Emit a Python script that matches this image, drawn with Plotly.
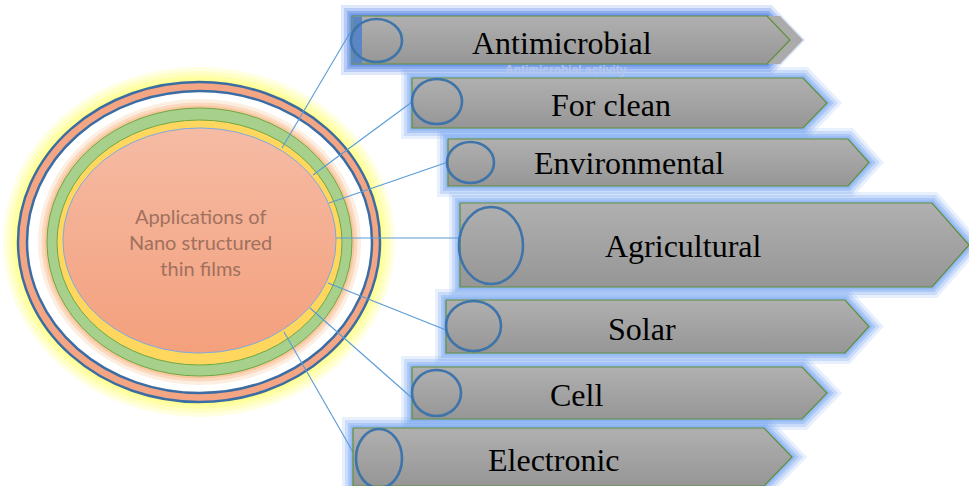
import numpy as np
import plotly.graph_objects as go

# ---- content ----
labels = ["Antimicrobial", "For clean", "Environmental", "Agricultural", "Solar", "Cell", "Electronic"]
hub_text = ["Applications of", "Nano structured", "thin films"]
ghost_text = "Antimicrobial activity"

# ---- geometry (pixel coordinates, y downwards) ----
# left, top, bottom, point start x, tip x
box_geom = [
    (352, 16, 64, 767, 790),
    (412, 78, 128, 803, 827),
    (448, 139, 186, 848, 869),
    (460, 203, 287, 932, 969),
    (446, 300, 353, 845, 869),
    (412, 367, 419, 802, 827),
    (353, 428, 486, 764, 792),
]
text_pos = [(562, 42), (611, 104), (629, 162), (683, 245), (642, 328), (576, 394), (553, 459)]
badge = [(351, 19, 402, 62), (412, 79, 462, 124), (447, 142, 494, 183), (459, 207, 523, 284),
         (446, 301, 501, 351), (412, 370, 461, 416), (356, 429, 402, 488)]
line_start = [(282, 148), (313, 175), (329, 203), (336, 238), (328, 283), (310, 308), (284, 332)]
line_end = [(351, 31), (412, 102), (448, 162), (460, 238), (446, 330), (412, 398), (353, 452)]

fig = go.Figure()
shapes = []

def circ(x0, y0, x1, y1, fill="rgba(0,0,0,0)", lc="rgba(0,0,0,0)", lw=0, layer="below"):
    shapes.append(dict(type="circle", xref="x", yref="y", x0=x0, y0=y0, x1=x1, y1=y1,
                       fillcolor=fill, line=dict(color=lc, width=lw), layer=layer))

# yellow glow around hub
for w, a in [(30, 0.2), (22, 0.25), (14, 0.3), (7, 0.35)]:
    circ(18, 82, 380, 402, lc=f"rgba(255,255,110,{a})", lw=w)
# outer double ring
circ(18, 82, 380, 402, fill="#f4a684", lc="#3b6da4", lw=2.5)
circ(27, 91, 372, 393, fill="#ffffff", lc="#3b6da4", lw=2.5)
# peach glow near green ring
for w, a in [(18, 0.2), (11, 0.3), (5, 0.4)]:
    circ(47, 108, 352, 376, lc=f"rgba(247,170,110,{a})", lw=w)
circ(47, 108, 352, 376, fill="#a8d08d", lc="#6fa843", lw=1)
circ(57, 120, 342, 365, fill="#ffd75e", lc="#6fa843", lw=1)

# inner ellipse with gradient
t = np.linspace(0, 2 * np.pi, 241)
ex = 199.5 + 136.5 * np.cos(t)
ey = 240.5 + 112.5 * np.sin(t)
fig.add_trace(go.Scatter(x=ex, y=ey, mode="lines", fill="toself",
                         line=dict(color="#7ea9e1", width=1),
                         fillgradient=dict(type="vertical", start=128, stop=353,
                                           colorscale=[[0, "#f5bba4"], [1, "#f4a07d"]]),
                         hoverinfo="skip", showlegend=False))

# connector lines
for (x0, y0), (x1, y1) in zip(line_start, line_end):
    fig.add_trace(go.Scatter(x=[x0, x1], y=[y0, y1], mode="lines",
                             line=dict(color="#5b9bd5", width=1.1),
                             hoverinfo="skip", showlegend=False))

def arrow_path(l, tp, b, ps, tip, dx=0):
    m = (tp + b) / 2
    xs = [l + dx, ps + dx, tip + dx, ps + dx, l + dx, l + dx]
    ys = [tp, tp, m, b, b, tp]
    return xs, ys

# glows for boxes
for i, (l, tp, b, ps, tip) in enumerate(box_geom):
    xs, ys = arrow_path(l, tp, b, ps, tip)
    path = "M " + " L ".join(f"{x},{y}" for x, y in zip(xs, ys)) + " Z"
    col = "80,130,230" if i == 0 else "125,170,242"
    for w, a in [(22, 0.18), (16, 0.28), (10, 0.4), (5, 0.5)]:
        shapes.append(dict(type="path", path=path, xref="x", yref="y",
                           line=dict(color=f"rgba({col},{a})", width=w),
                           fillcolor="rgba(0,0,0,0)", layer="below"))

# ghost text under first box
ann = [dict(x=566, y=70, text=f"<b>{ghost_text}</b>", showarrow=False,
            font=dict(family="Liberation Sans", size=12, color="#b4c6ec"),
            xanchor="center", yanchor="middle")]

# shadow of first box
l, tp, b, ps, tip = box_geom[0]
xs, ys = arrow_path(l, tp, b, ps, tip, dx=13)
fig.add_trace(go.Scatter(x=xs, y=ys, mode="lines", fill="toself", fillcolor="#ababab",
                         line=dict(width=0, color="#ababab"), hoverinfo="skip", showlegend=False))

# boxes
for i, (l, tp, b, ps, tip) in enumerate(box_geom):
    xs, ys = arrow_path(l, tp, b, ps, tip)
    fig.add_trace(go.Scatter(x=xs, y=ys, mode="lines", fill="toself",
                             line=dict(color="#5f8f3a", width=1.2),
                             fillgradient=dict(type="vertical", start=tp, stop=b,
                                               colorscale=[[0, "#b0b0b0"], [1, "#969696"]]),
                             hoverinfo="skip", showlegend=False))
# blue strip on first box
shapes.append(dict(type="rect", xref="x", yref="y", x0=352.5, x1=362, y0=16.5, y1=63.5,
                   fillcolor="#5a86c6", line=dict(width=0), layer="above"))

# badges
for (x0, y0, x1, y1) in badge:
    circ(x0, y0, x1, y1, lc="#3e74aa", lw=2.6, layer="above")

# labels
for lab, (x, y) in zip(labels, text_pos):
    ann.append(dict(x=x, y=y + 1, text=lab, showarrow=False, xanchor="center", yanchor="middle",
                    font=dict(family="Liberation Serif", size=32, color="#000000")))

ann.append(dict(x=200, y=242, text="<br>".join(hub_text), showarrow=False,
                xanchor="center", yanchor="middle", align="center",
                font=dict(family="Lato", size=20, color="#a0715e")))

fig.update_layout(
    width=969, height=486, margin=dict(l=0, r=0, t=0, b=0),
    paper_bgcolor="white", plot_bgcolor="white",
    xaxis=dict(range=[0, 969], visible=False, fixedrange=True),
    yaxis=dict(range=[486, 0], visible=False, fixedrange=True),
    shapes=shapes, annotations=ann, showlegend=False,
)
fig.write_html("out.html", config={"displayModeBar": False},
               post_script="document.body.style.margin='0';document.body.style.overflow='hidden';")
